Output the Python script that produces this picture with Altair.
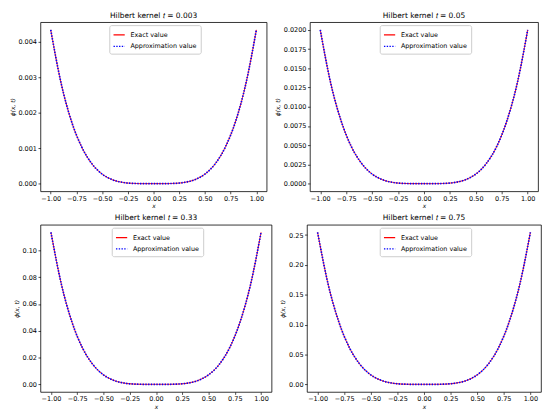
import altair as alt
import pandas as pd

# ---- data ----
x_values = [-1.0, -0.9, -0.8, -0.7, -0.6, -0.5, -0.4, -0.3, -0.2, -0.1, 0.0,
            0.1, 0.2, 0.3, 0.4, 0.5, 0.6, 0.7, 0.8, 0.9, 1.0]

phi_t_0003 = [0.00433, 0.00284, 0.00177, 0.00104, 0.00056, 0.00027, 0.00011, 0.000035, 0.000007, 0.0000004, 0.0,
              0.0000004, 0.000007, 0.000035, 0.00011, 0.00027, 0.00056, 0.00104, 0.00177, 0.00284, 0.00433]
phi_t_005 = [0.0200, 0.0131, 0.0082, 0.0048, 0.0026, 0.00125, 0.00051, 0.00016, 0.00003, 0.000002, 0.0,
             0.000002, 0.00003, 0.00016, 0.00051, 0.00125, 0.0026, 0.0048, 0.0082, 0.0131, 0.0200]
phi_t_033 = [0.1135, 0.0745, 0.0465, 0.0272, 0.0147, 0.0071, 0.0029, 0.0009, 0.00018, 0.00001, 0.0,
             0.00001, 0.00018, 0.0009, 0.0029, 0.0071, 0.0147, 0.0272, 0.0465, 0.0745, 0.1135]
phi_t_075 = [0.2545, 0.167, 0.1043, 0.0611, 0.0330, 0.0159, 0.0065, 0.0021, 0.0004, 0.00003, 0.0,
             0.00003, 0.0004, 0.0021, 0.0065, 0.0159, 0.0330, 0.0611, 0.1043, 0.167, 0.2545]

titles = ["Hilbert kernel 𝑡 = 0.003", "Hilbert kernel 𝑡 = 0.05",
          "Hilbert kernel 𝑡 = 0.33", "Hilbert kernel 𝑡 = 0.75"]

x_ticks = [-1.0, -0.75, -0.5, -0.25, 0.0, 0.25, 0.5, 0.75, 1.0]
y_ticks_0003 = [0.000, 0.001, 0.002, 0.003, 0.004]
y_ticks_005 = [0.0, 0.0025, 0.005, 0.0075, 0.01, 0.0125, 0.015, 0.0175, 0.02]
y_ticks_033 = [0.0, 0.02, 0.04, 0.06, 0.08, 0.10]
y_ticks_075 = [0.0, 0.05, 0.10, 0.15, 0.20, 0.25]

SERIES = ["Exact value", "Approximation value"]
FONT = "DejaVu Sans"


def panel(vals, title, yticks, yfmt, w, h):
    rows = []
    for s in SERIES:
        for xv, yv in zip(x_values, vals):
            rows.append({"x": xv, "phi": yv, "series": s})
    df = pd.DataFrame(rows)
    ymax = max(vals)
    ydom = [-0.05 * ymax, 1.05 * ymax]
    leg = alt.Legend(
        title=None, orient="none", legendX=w / 2 - 45, legendY=3,
        direction="vertical", fillColor="white", strokeColor="#cccccc",
        cornerRadius=2, padding=3.5, labelFont=FONT, labelFontSize=6.5,
        labelColor="#000", symbolType="stroke", symbolSize=130,
        symbolStrokeWidth=1.3, rowPadding=1.5, labelOffset=5,
    )
    enc = dict(
        x=alt.X("x:Q", scale=alt.Scale(domain=[-1.1, 1.1], nice=False, zero=False),
                axis=alt.Axis(values=x_ticks, format=".2f", title="x", titlePadding=1)),
        y=alt.Y("phi:Q", scale=alt.Scale(domain=ydom, nice=False, zero=False),
                axis=alt.Axis(values=yticks, format=yfmt, title="ϕ(x, t)", titlePadding=3)),
        color=alt.Color("series:N", scale=alt.Scale(domain=SERIES, range=["#ff0000", "#0000ff"]), legend=leg),
        strokeDash=alt.StrokeDash("series:N", scale=alt.Scale(domain=SERIES, range=[[1, 0], [1.4, 1.4]]), legend=leg),
    )
    base = alt.Chart(df)
    exact = base.mark_line(strokeWidth=1.0, interpolate="monotone").encode(**enc).transform_filter(
        alt.datum.series == SERIES[0])
    approx = base.mark_line(strokeWidth=1.7, interpolate="monotone").encode(**enc).transform_filter(
        alt.datum.series == SERIES[1])
    return alt.layer(exact, approx).properties(
        width=w, height=h,
        title=alt.TitleParams(title, anchor="middle", font=FONT, fontSize=7.6,
                              fontWeight="normal", offset=3, color="#000"),
    )


p1 = panel(phi_t_0003, titles[0], y_ticks_0003, ".3f", 230, 172)
p2 = panel(phi_t_005, titles[1], y_ticks_005, ".4f", 232, 172)
p3 = panel(phi_t_033, titles[2], y_ticks_033, ".2f", 235, 170)
p4 = panel(phi_t_075, titles[3], y_ticks_075, ".2f", 238, 170)

row1 = alt.hconcat(p1, p2, spacing=6).resolve_scale(color="independent", strokeDash="independent").resolve_legend(
    color="independent", strokeDash="independent")
row2 = alt.hconcat(p3, p4, spacing=6).resolve_scale(color="independent", strokeDash="independent").resolve_legend(
    color="independent", strokeDash="independent")

chart = alt.vconcat(row1, row2, spacing=5).resolve_scale(
    color="independent", strokeDash="independent").resolve_legend(
    color="independent", strokeDash="independent").properties(
    padding={"left": 0, "top": 0, "right": 0, "bottom": 0}, background="white",
).configure_view(stroke="#000", strokeWidth=0.8).configure_axis(
    domain=False, grid=False, tickColor="#000", tickSize=2.5, tickWidth=0.7,
    labelFont=FONT, labelFontSize=6.6, labelColor="#000", labelPadding=1.5,
    titleFont=FONT, titleFontSize=6, titleFontStyle="italic", titleFontWeight="normal",
    titleColor="#000",
)

chart.save("out.html", embed_options={"renderer": "svg", "actions": False})
